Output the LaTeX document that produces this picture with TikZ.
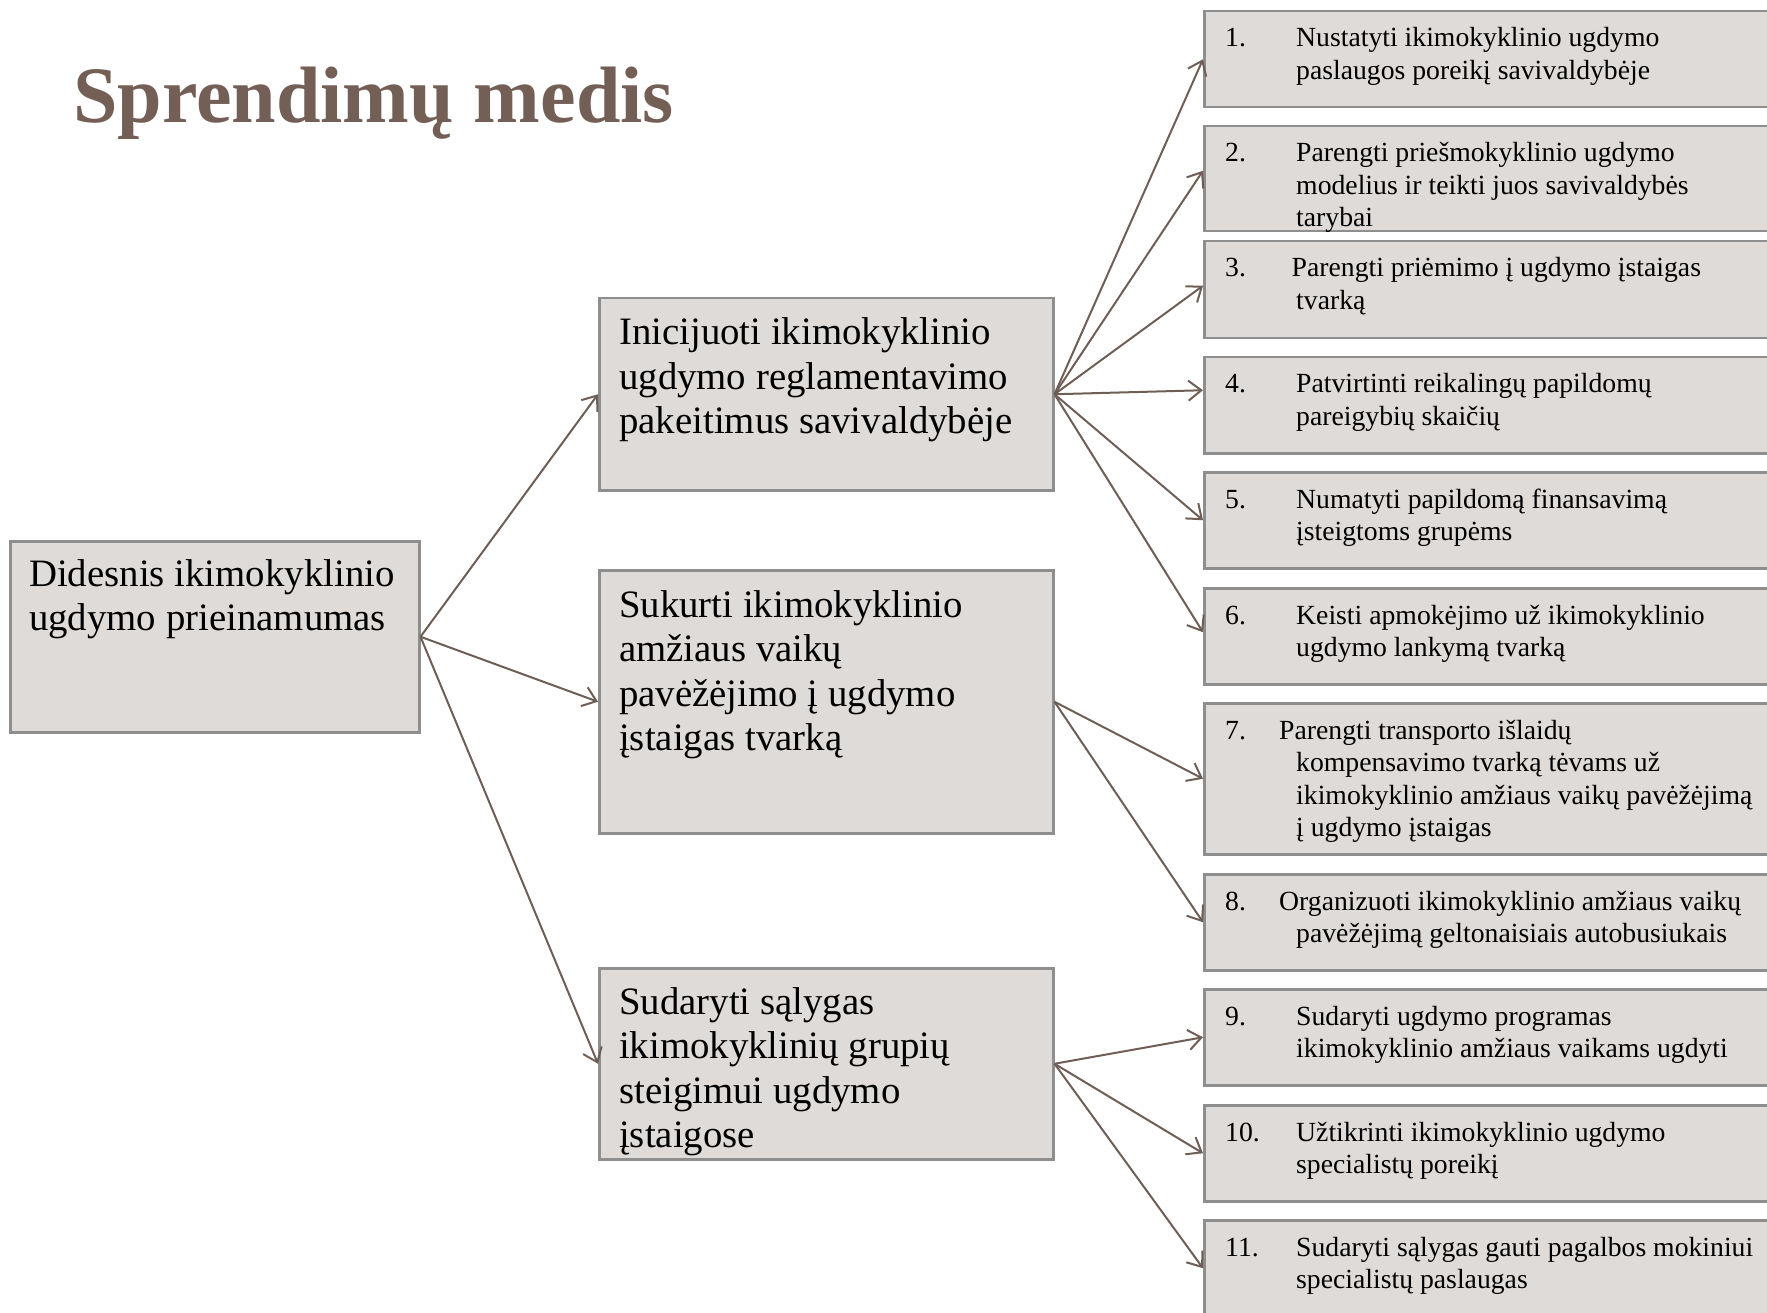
\documentclass[tikz,border=0pt]{standalone}
\usepackage{fontspec}
\setmainfont{Liberation Serif}
\usetikzlibrary{arrows.meta}
\definecolor{titlebrown}{HTML}{735F55}
\definecolor{arrowbrown}{HTML}{6E5E55}
\definecolor{boxfill}{HTML}{DFDBD8}
\definecolor{boxline}{HTML}{8E8E8E}
\newcommand\Ls[1]{\vtop{\halign{##\hfil\cr#1\crcr}}}
\begin{document}
\begin{tikzpicture}[x=1pt,y=-1pt,
  box/.style={draw=boxline, fill=boxfill, line width=2.5pt, rectangle, inner sep=0pt, anchor=north west},
  bigtxt/.style={anchor=base west, inner sep=0pt, font=\fontsize{38.8}{44.5}\selectfont},
  smalltxt/.style={anchor=base west, inner sep=0pt, font=\fontsize{27.7}{32.5}\selectfont},
  arr/.style={draw=arrowbrown, line width=2pt, -{Straight Barb[length=13pt,width=20pt,line width=2pt]}}]
\useasboundingbox (0,0) rectangle (1767,1313);
% title
\node[anchor=base west, inner sep=0pt, text=titlebrown, font=\fontsize{80}{90}\selectfont\bfseries] (title) at (73,123) {Sprendimų medis};
% left and middle boxes
\node[box, minimum width=409pt, minimum height=191pt] (root) at (9,540) {};
\node[box, minimum width=454pt, minimum height=192pt] (m1) at (598,297) {};
\node[box, minimum width=454pt, minimum height=263pt] (m2) at (598,569) {};
\node[box, minimum width=454pt, minimum height=191pt] (m3) at (598,967) {};
\node[bigtxt] (troot) at (29,586) {\Ls{Didesnis ikimokyklinio\cr ugdymo prieinamumas}};
\node[bigtxt] (tm1) at (619,345) {\Ls{Inicijuoti ikimokyklinio\cr ugdymo reglamentavimo\cr pakeitimus savivaldybėje}};
\node[bigtxt] (tm2) at (619,617) {\Ls{Sukurti ikimokyklinio\cr amžiaus vaikų\cr pavėžėjimo į ugdymo\cr įstaigas tvarką}};
\node[bigtxt] (tm3) at (619,1014) {\Ls{Sudaryti sąlygas\cr ikimokyklinių grupių\cr steigimui ugdymo\cr įstaigose}};
% right boxes
\node[box, minimum width=577pt, minimum height=96pt] (r1) at (1203,10) {};
\node[box, minimum width=577pt, minimum height=105pt] (r2) at (1203,125) {};
\node[box, minimum width=577pt, minimum height=97pt] (r3) at (1203,240) {};
\node[box, minimum width=577pt, minimum height=96pt] (r4) at (1203,356) {};
\node[box, minimum width=577pt, minimum height=96pt] (r5) at (1203,471) {};
\node[box, minimum width=577pt, minimum height=96pt] (r6) at (1203,587) {};
\node[box, minimum width=577pt, minimum height=151pt] (r7) at (1203,702) {};
\node[box, minimum width=577pt, minimum height=96pt] (r8) at (1203,873) {};
\node[box, minimum width=577pt, minimum height=96pt] (r9) at (1203,988) {};
\node[box, minimum width=577pt, minimum height=96pt] (r10) at (1203,1104) {};
\node[box, minimum width=577pt, minimum height=96pt] (r11) at (1203,1219) {};
% numbers
\node[smalltxt] (n1) at (1225,47) {1.};
\node[smalltxt] (n2) at (1225,162) {2.};
\node[smalltxt] (n3) at (1225,277) {3.};
\node[smalltxt] (n4) at (1225,393) {4.};
\node[smalltxt] (n5) at (1225,508) {5.};
\node[smalltxt] (n6) at (1225,624) {6.};
\node[smalltxt] (n7) at (1225,739) {7.};
\node[smalltxt] (n8) at (1225,910) {8.};
\node[smalltxt] (n9) at (1225,1025) {9.};
\node[smalltxt] (n10) at (1225,1141) {10.};
\node[smalltxt] (n11) at (1225,1256) {11.};
% texts
\node[smalltxt] (t1) at (1296,47) {\Ls{Nustatyti ikimokyklinio ugdymo\cr paslaugos poreikį savivaldybėje}};
\node[smalltxt] (t2) at (1296,162) {\Ls{Parengti priešmokyklinio ugdymo\cr modelius ir teikti juos savivaldybės\cr tarybai}};
\node[smalltxt] (t3) at (1291.5,277) {\Ls{Parengti priėmimo į ugdymo įstaigas\cr \hspace*{4.5pt}tvarką}};
\node[smalltxt] (t4) at (1296,393) {\Ls{Patvirtinti reikalingų papildomų\cr pareigybių skaičių}};
\node[smalltxt] (t5) at (1296,508) {\Ls{Numatyti papildomą finansavimą\cr įsteigtoms grupėms}};
\node[smalltxt] (t6) at (1296,624) {\Ls{Keisti apmokėjimo už ikimokyklinio\cr ugdymo lankymą tvarką}};
\node[smalltxt] (t7) at (1279,739) {\Ls{Parengti transporto išlaidų\cr \hspace*{17pt}kompensavimo tvarką tėvams už\cr \hspace*{17pt}ikimokyklinio amžiaus vaikų pavėžėjimą\cr \hspace*{17pt}į ugdymo įstaigas}};
\node[smalltxt] (t8) at (1279,910) {\Ls{Organizuoti ikimokyklinio amžiaus vaikų\cr \hspace*{17pt}pavėžėjimą geltonaisiais autobusiukais}};
\node[smalltxt] (t9) at (1296,1025) {\Ls{Sudaryti ugdymo programas\cr ikimokyklinio amžiaus vaikams ugdyti}};
\node[smalltxt] (t10) at (1296,1141) {\Ls{Užtikrinti ikimokyklinio ugdymo\cr specialistų poreikį}};
\node[smalltxt] (t11) at (1296,1256) {\Ls{Sudaryti sąlygas gauti pagalbos mokiniui\cr specialistų paslaugas}};
% connectors
\draw[arr] (root.east) -- (m1.west);
\draw[arr] (root.east) -- (m2.west);
\draw[arr] (root.east) -- (m3.west);
\draw[arr] (m1.east) -- (r1.west);
\draw[arr] (m1.east) -- ([yshift=8pt]r2.west);
\draw[arr] (m1.east) -- ([yshift=4pt]r3.west);
\draw[arr] (m1.east) -- ([yshift=15pt]r4.west);
\draw[arr] (m1.east) -- (r5.west);
\draw[arr] (m1.east) -- ([yshift=4pt]r6.west);
\foreach \r in {r7,r8} \draw[arr] (m2.east) -- (\r.west);
\foreach \r in {r9,r10,r11} \draw[arr] (m3.east) -- (\r.west);
\end{tikzpicture}
\end{document}
